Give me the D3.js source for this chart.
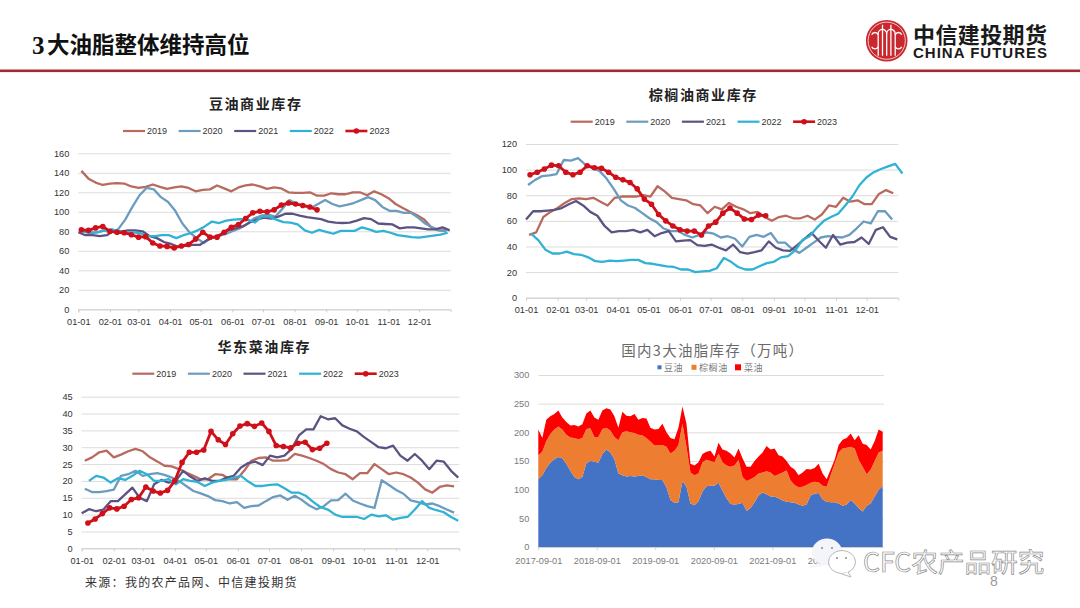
<!DOCTYPE html>
<html lang="zh">
<head>
<meta charset="utf-8">
<title>3大油脂整体维持高位</title>
<script src="https://cdn.jsdelivr.net/npm/d3@7/dist/d3.min.js"></script>
<style>
  html, body { margin: 0; padding: 0; background: #fff; }
  svg { display: block; }
  text { font-family: "Liberation Sans", "Noto Sans CJK SC", sans-serif; }
</style>
</head>
<body>
<svg id="slide" width="1080" height="608"></svg>
<script>
// Weekly commercial stocks by calendar year, 万吨
const years = ["2019", "2020", "2021", "2022", "2023"];
const monthLabels = ["01-01","02-01","03-01","04-01","05-01","06-01","07-01","08-01","09-01","10-01","11-01","12-01"];
const monthStartDays = [0,31,59,90,120,151,181,212,243,273,304,334];

const soy2019 = [142,134,130,127.5,129,129.5,129,126,124.5,125.5,128,125.5,123.5,125,126,124.5,121,122.5,123,127,124,121,125,127,128,126,123.5,125,124,120,119.5,119.5,120,116.5,116.5,119,118,118,120,120,117,121,118,114,108,104,100,96.5,92,84,81,81];
const soy2020 = [80,78,79,81,79,82,92,105,117,124.5,123,115,110,101,88,79,73,68,73,75,77,80,83,87,93,96,97,95,103,112,108,106,104,108,112,108,105.5,107,109,112,115,112,105,101,101,99,99,94,88,84,81,80];
const soy2021 = [79,76,76,75,76,81,80,81,81,80,75,73,69,67,64,65,66,66,71,74,77,81,83,85,89,92,94,93,95,98,98,96,94.5,93.5,92.5,90,89,88.5,89,91,93.5,92.5,88,87.5,87,83,84,84,83,82,82,84,81];
const soy2022 = [80,79,79,81,82,80,79,79,78,75,75,76,76,73,76,78,81,85,90,88.5,91,92,92.5,92,89,95,95,92,89.5,89,87,81,78.5,81.5,79.5,77.5,80.5,80.5,80.5,84,82,79.5,80.5,78.5,76,75,74,73.5,74.5,75.5,76.5,78.5];
const soy2023 = [81.5,81,83.5,85,80,79,78.5,76.5,74,74.5,68,65,64.5,63,65,66.5,72,79,74,74,79,84,87,93,99,100.5,100,102,107,109,108,106.5,105,102];

const palm2019 = [49,51,63,67,70,74,77,77.5,77,78,75,72,78,79,79,79,80,79,87,83,78,77,76,73,72,66,71,69,74,71,69,66,67,63,60,63,64,62,62,64,61,65,72,71,78,75,76,73,73,81,84,81.5];
const palm2020 = [88,92,95,95.5,96.5,107.5,107,109,104,101,99,93,85,76,72,70,66,62,59,54,52,52,49,47,49,51,50,47,48,46,40,47.5,49,47.5,50.5,43,43,38,35,39,43,47,48,47.5,47,49,54,59.5,58,67.5,67.5,61];
const palm2021 = [61,67.5,67.5,68,68.5,70,73,75.5,72,67,64,56,51,52,52,53,51,53,48,50.5,52,44,44.5,45,41,40.5,41.5,39,37,41.5,35.5,34.5,35.5,37,44,39,37,36.5,41,46,50.5,44.5,39,49,41.5,43,43.5,47,42,53,55,47.5,45.5];
const palm2022 = [50,45,37.5,34.5,34.5,36,34,33.5,31.5,28.5,28,29,28.5,29,29.5,29.5,27,26.5,25.5,24.5,24,22,22,20,20.5,21,23,31,28,24,22,22,24.5,27,28,31.5,32.5,37,45,48,54.5,60,63,65.5,72,79,88,94,98,100.5,102.5,104.5,97];
const palm2023 = [96,98,100.5,103.5,103,98,96,98,103,101.5,101,98,94,92,90,85,77,73,65,60,56,53,52,52,49,56,59,66,70,66,61.5,61,64.5,64];

const rape2019 = [26,27,28.5,29,27,27.8,28.8,29.5,28.8,27,25.8,24.5,24.3,23.5,22.5,21.5,20.5,20.5,22,21.8,20.5,20.5,23,26,26.8,27,26,26,26.2,28,27.5,26.8,26,25,23.5,22.5,22,20.5,22.3,22.3,25,23.5,22,22.5,22,21,19.5,17.5,16.5,18.2,18.7,18.4];
const rape2020 = [17.7,16.7,16.7,17,17.4,21.5,22,23,21.5,22,22.3,21.8,21,20,18.5,17,16.3,15.5,14.3,14,13.3,13.7,12,12.5,12.7,14,15.2,15.7,14.4,15.6,14.3,12.7,11.6,12.5,14.2,14.3,16.2,14.2,13.3,12.5,12,20.2,18.8,17.3,16.2,14.2,13.7,13,13.3,12.5,11.5,10.6];
const rape2021 = [10.4,11.6,11,11.5,14,14,16,18,15,14,19,20.3,19.5,20,23,21.3,20,20.8,20,20,21,21.5,24,25.3,25.7,24.7,27.5,27,27.5,29.5,33.5,35.3,35.3,39.2,38.3,38.6,36.5,35.5,34.7,33,31.5,30,29.7,30.5,27.5,26,28,26,23.5,26,25.7,23,21];
const rape2022 = [20,21.5,21,19.5,20.8,20.3,21.5,23,22,20,20,20.5,19,20.5,20,19.7,18.5,19.5,20,20.3,21,21.5,19.8,18.5,18.5,18.8,19,17.8,16.5,16.5,15.5,13.7,12.2,11.5,10,9.3,9.3,9.3,8.7,10,9.5,9.8,8.5,9,9.3,11.5,14,12,11.3,10.7,9.3,8.2];
const rape2023 = [7.5,8.7,10.3,12,11.7,12.5,14.5,15,18.2,17,16.4,17.2,20,25.5,28.5,28.5,29.2,34.7,32.2,30.8,34,36.3,37,36.2,37.2,34.7,30.5,30.2,29.8,31.2,31.5,29.3,29.7,31.2];

// First reporting day of each year's series, counted from 1 January
const soyStartDays = [3,4,0,5,3];
const palmStartDays = [3,2,0,5,4];
const rapeStartDays = [3,3,0,7,6];

// National stocks sampled through the marketing years since 2017-09-01
const stackStart = "2017-09-01";
const stackStepDays = 25;
const stackTickYears = [2017,2018,2019,2020,2021,2022];
const stackSoy = [118,125,138,147,153,157,155,145,133,122,118,122,146,150,149,147,162,170,165,153,128,125,123,124,123,124,125,122,118,118,117,117,104,82,77,78,115,105,76,73,80,97,106,107,107,112,98,85,75,74,75,77,63,68,78,90,95,92,88,88,85,81,79,78,77,74,72,74,90,93,94,83,79,78,78,76,72,74,82,76,68,62,72,76,88,100,106];
const stackPalm = [42,41,47,50,52,53,50,51,58,68,70,68,60,57,43,45,44,38,38,39,58,75,79,76,76,72,70,68,66,59,61,61,71,81,91,100,100,70,54,52,48,51,46,43,41,51,50,57,65,68,77,45,52,50,44,38,35,40,42,36,42,49,55,38,31,30,33,34,22,21,19,24,26,47,67,89,100,99,93,96,84,78,55,59,62,65,62];
const stackRape = [45,24,37,31,27,28,21,22,21,23,22,24,27,31,34,30,32,34,37,36,22,36,27,28,33,26,30,34,24,28,28,37,25,27,20,30,30,40,15,17,20,14,14,18,10,19,22,26,23,14,20,33,25,22,28,30,35,44,40,48,33,28,16,24,27,21,25,28,23,24,32,21,13,10,7,13,15,17,23,14,43,40,51,35,35,40,33];
const stackNames = ["豆油","棕榈油","菜油"];

const yearColors = ["#b96a5e", "#6b9cbf", "#5d5383", "#2fb2d4", "#cf101a"];
const stackColors = ["#4472c4", "#ed7d31", "#ff0000"];

const svg = d3.select("#slide");
const gridColor = "#dcdcdc";

// Draws one seasonal panel: five yearly lines over a day-of-year axis
function seasonalChart(opts) {
  const { left, right, top, bottom, yMax, yStep, title, titleX, titleY, legendX, legendY, series, startDays } = opts;
  const x = d3.scaleLinear().domain([0, 365]).range([left, right]);
  const y = d3.scaleLinear().domain([0, yMax]).range([bottom, top]);
  const g = svg.append("g");

  g.append("g")
    .attr("transform", `translate(${left},0)`)
    .call(d3.axisLeft(y).tickValues(d3.range(0, yMax + 1, yStep)).tickSize(-(right - left)).tickPadding(9).tickFormat(d3.format("d")))
    .call(a => a.select(".domain").remove())
    .call(a => a.selectAll("line").attr("stroke", gridColor))
    .call(a => a.selectAll("text").attr("fill", "#333").attr("font-size", 9.2).attr("font-family", "Liberation Sans"));

  g.append("g")
    .attr("transform", `translate(0,${bottom})`)
    .call(d3.axisBottom(x).tickValues(monthStartDays).tickSizeInner(3).tickSizeOuter(3).tickPadding(6)
      .tickFormat((d, i) => monthLabels[i]))
    .call(a => a.select(".domain").attr("stroke", "#cfcfcf"))
    .call(a => a.selectAll("line").attr("stroke", "#cfcfcf"))
    .call(a => a.selectAll("text").attr("fill", "#333").attr("font-size", 9.2).attr("font-family", "Liberation Sans"));

  const line = d3.line().x(d => x(d.day)).y(d => y(d.value));
  series.forEach((values, si) => {
    const points = values.map((value, i) => ({ day: startDays[si] + i * 7, value }));
    g.append("path").datum(points)
      .attr("fill", "none").attr("stroke", yearColors[si])
      .attr("stroke-width", si === 4 ? 2.8 : 2.3)
      .attr("stroke-linejoin", "round").attr("d", line);
    if (si === 4) {
      g.selectAll("circle.mark").data(points).join("circle")
        .attr("class", "mark").attr("cx", d => x(d.day)).attr("cy", d => y(d.value))
        .attr("r", 2.8).attr("fill", yearColors[si]);
    }
  });

  g.append("text").attr("x", titleX).attr("y", titleY).attr("text-anchor", "middle")
    .attr("dominant-baseline", "central").attr("font-size", 14).attr("font-weight", 700)
    .attr("letter-spacing", 1.6).attr("fill", "#222")
    .style("font-family", "'Noto Sans CJK SC'").text(title);

  years.forEach((yr, i) => {
    const lx = legendX + i * 55.6;
    g.append("line").attr("x1", lx).attr("x2", lx + 22).attr("y1", legendY).attr("y2", legendY)
      .attr("stroke", yearColors[i]).attr("stroke-width", i === 4 ? 2.6 : 2.2);
    if (i === 4) g.append("circle").attr("cx", lx + 11).attr("cy", legendY).attr("r", 2.8).attr("fill", yearColors[i]);
    g.append("text").attr("x", lx + 24).attr("y", legendY).attr("dominant-baseline", "central")
      .attr("font-size", 9).attr("fill", "#333").text(yr);
  });
}

seasonalChart({
  left: 78.3, right: 450.7, top: 153.3, bottom: 309.3, yMax: 160, yStep: 20,
  title: "豆油商业库存", titleX: 255.7, titleY: 103, legendX: 123, legendY: 131,
  series: [soy2019, soy2020, soy2021, soy2022, soy2023], startDays: soyStartDays
});
seasonalChart({
  left: 526, right: 898.3, top: 144, bottom: 297.7, yMax: 120, yStep: 20,
  title: "棕榈油商业库存", titleX: 703.3, titleY: 94, legendX: 570.7, legendY: 121.7,
  series: [palm2019, palm2020, palm2021, palm2022, palm2023], startDays: palmStartDays
});
seasonalChart({
  left: 81.7, right: 459.3, top: 396.7, bottom: 548.3, yMax: 45, yStep: 5,
  title: "华东菜油库存", titleX: 264.3, titleY: 346.3, legendX: 132.3, legendY: 373.7,
  series: [rape2019, rape2020, rape2021, rape2022, rape2023], startDays: rapeStartDays
});

// Stacked national inventory panel
(function stackedChart() {
  const left = 538.3, right = 882.7, top = 375, bottom = 547;
  const parse = d3.utcParse("%Y-%m-%d");
  const start = parse(stackStart);
  const rows = stackSoy.map((soy, i) => ({
    date: d3.utcDay.offset(start, i * stackStepDays),
    [stackNames[0]]: soy, [stackNames[1]]: stackPalm[i], [stackNames[2]]: stackRape[i]
  }));
  const x = d3.scaleUtc().domain([start, rows[rows.length - 1].date]).range([left, right]);
  const y = d3.scaleLinear().domain([0, 300]).range([bottom, top]);
  const g = svg.append("g");

  g.append("g").attr("transform", `translate(${left},0)`)
    .call(d3.axisLeft(y).tickValues(d3.range(0, 301, 50)).tickSize(-(right - left + 1)).tickPadding(9))
    .call(a => a.select(".domain").remove())
    .call(a => a.selectAll("line").attr("stroke", gridColor))
    .call(a => a.selectAll("text").attr("fill", "#7a7a7a").attr("font-size", 9.2).attr("font-family", "Liberation Sans"));

  const area = d3.area().x(d => x(d.data.date)).y0(d => y(d[0])).y1(d => y(d[1]));
  g.selectAll("path.layer").data(d3.stack().keys(stackNames)(rows)).join("path")
    .attr("class", "layer").attr("fill", (d, i) => stackColors[i]).attr("d", area);

  g.append("g").attr("transform", `translate(0,${bottom})`)
    .call(d3.axisBottom(x).tickValues(stackTickYears.map(yr => Date.UTC(yr, 8, 1))).tickSizeInner(3).tickSizeOuter(0).tickPadding(7)
      .tickFormat(d3.utcFormat("%Y-%m-%d")))
    .call(a => a.select(".domain").attr("stroke", "#cfcfcf"))
    .call(a => a.selectAll("line").attr("stroke", "#cfcfcf"))
    .call(a => a.selectAll("text").attr("fill", "#7a7a7a").attr("font-size", 9.2).attr("font-family", "Liberation Sans"));

  g.append("text").attr("x", 712.8).attr("y", 349.5).attr("text-anchor", "middle")
    .attr("dominant-baseline", "central").attr("font-size", 14.5).attr("letter-spacing", 1.3)
    .attr("fill", "#6a6a6a").style("font-family", "'Noto Sans CJK SC'").text("国内3大油脂库存（万吨）");

  const swatchX = [657.5, 691.5, 735], labelX = [664, 699, 744], swatchSize = [4, 5, 6];
  stackNames.forEach((name, i) => {
    g.append("rect").attr("x", swatchX[i]).attr("y", 367.3 - swatchSize[i] / 2)
      .attr("width", swatchSize[i]).attr("height", swatchSize[i]).attr("fill", stackColors[i]);
    g.append("text").attr("x", labelX[i]).attr("y", 367.3).attr("dominant-baseline", "central")
      .attr("font-size", 9).attr("letter-spacing", 0.6).attr("fill", "#7a7a7a")
      .style("font-family", "'Noto Sans CJK SC'").text(name);
  });
})();

// Slide header
const heading = svg.append("text").attr("x", 32).attr("y", 45).attr("dominant-baseline", "central")
  .attr("font-size", 22.5).attr("font-weight", 700).attr("fill", "#111")
  .style("font-family", "'Liberation Serif','Noto Sans CJK SC'");
heading.append("tspan").attr("font-size", 25).attr("letter-spacing", 2.4).text("3");
heading.append("tspan").text("大油脂整体维持高位");
svg.append("rect").attr("x", 0).attr("y", 69.5).attr("width", 1080).attr("height", 2.6).attr("fill", "#a32a30");

// Company mark and name
const logo = svg.append("g").attr("transform", "translate(886.7,40.7)");
logo.append("circle").attr("r", 20.8).attr("fill", "#c9282e");
logo.append("circle").attr("r", 18.6).attr("fill", "none").attr("stroke", "#f6d9da").attr("stroke-width", 0.9);
[
  "M-15,-6 A3.5,3.5 0 0 1 -8.5,-6 M-15,6 A3.5,3.5 0 0 0 -8.5,6",
  "M15,-6 A3.5,3.5 0 0 0 8.5,-6 M15,6 A3.5,3.5 0 0 1 8.5,6",
  "M-8.5,15 V-7 A4.2,4.2 0 0 1 0,-7 V15",
  "M0,-7 A4.2,4.2 0 0 1 8.5,-7 V15",
  "M-4.2,-16 V15 M4.2,-16 V15"
].forEach(d => logo.append("path").attr("d", d).attr("fill", "none").attr("stroke", "#fff").attr("stroke-width", 1.3));

svg.append("text").attr("x", 913).attr("y", 33).attr("dominant-baseline", "central")
  .attr("font-size", 22).attr("font-weight", 700).attr("letter-spacing", 0.4).attr("fill", "#1a1a1a")
  .style("font-family", "'Noto Sans CJK SC'").text("中信建投期货");
svg.append("text").attr("x", 913).attr("y", 52.5).attr("dominant-baseline", "central")
  .attr("font-size", 15).attr("font-weight", 700).attr("fill", "#1a1a1a")
  .attr("textLength", 134).attr("lengthAdjust", "spacing").text("CHINA FUTURES");

// Source note and page number
svg.append("text").attr("x", 85).attr("y", 581).attr("dominant-baseline", "central")
  .attr("font-size", 12).attr("letter-spacing", 1.3).attr("fill", "#333")
  .style("font-family", "'Noto Sans CJK SC'").text("来源：我的农产品网、中信建投期货");
svg.append("text").attr("x", 994).attr("y", 581).attr("text-anchor", "middle").attr("dominant-baseline", "central")
  .attr("font-size", 14).attr("fill", "#9a9a9a").text("8");

// Channel badge laid over the lower right corner
const badge = svg.append("g");
badge.append("ellipse").attr("cx", 827).attr("cy", 552).attr("rx", 15).attr("ry", 13.5).attr("fill", "#f3f5fa");
badge.append("path").attr("d", "M818,563 L806,568 L824,566 Z").attr("fill", "#f3f5fa");
badge.append("ellipse").attr("cx", 842).attr("cy", 562).attr("rx", 13.5).attr("ry", 11.5)
  .attr("fill", "#fff").attr("stroke", "#b0b0b0").attr("stroke-width", 0.9);
badge.append("path").attr("d", "M848,572 L851,577 L842,574").attr("fill", "#fff").attr("stroke", "#b0b0b0").attr("stroke-width", 0.9);
[[822, 548], [832, 548], [837, 558], [846, 558]].forEach(([cx, cy]) =>
  badge.append("circle").attr("cx", cx).attr("cy", cy).attr("r", 1).attr("fill", "#8a8a8a"));
badge.append("text").attr("x", 863).attr("y", 560.5).attr("dominant-baseline", "central")
  .attr("font-size", 26.6).attr("fill", "#fff").attr("stroke", "#8c8c8c").attr("stroke-width", 0.7)
  .style("font-family", "'Noto Sans CJK SC'").text("CFC农产品研究");
</script>
</body>
</html>
